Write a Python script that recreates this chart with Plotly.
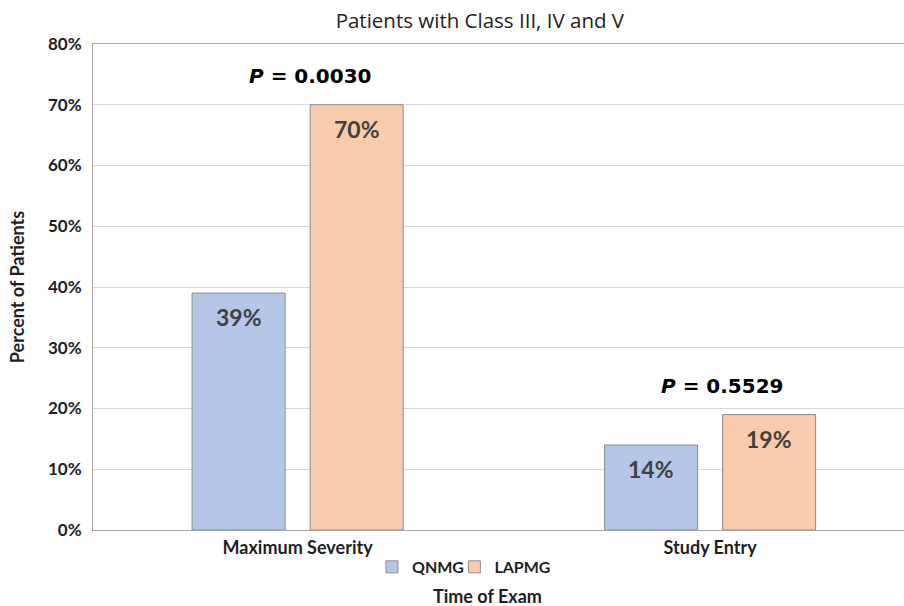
import plotly.graph_objects as go

# Data
categories = ["Maximum Severity", "Study Entry"]
qnmg = [39, 14]
lapmg = [70, 19]
p_values = ["0.0030", "0.5529"]
y_ticks = [0, 10, 20, 30, 40, 50, 60, 70, 80]

# Styling
BLUE = "#B4C7E7"
ORANGE = "#F8CBAD"
OUTLINE = "#8C8C8C"
LABEL_COLOR = "#404040"
TEXT_COLOR = "#1E1E1E"
BAR_W = 0.2255
OFF_Q = -0.2558
OFF_L = 0.0303

x_idx = list(range(len(categories)))

fig = go.Figure()
fig.add_trace(go.Bar(
    name="QNMG", x=x_idx, y=qnmg, width=BAR_W, offset=OFF_Q,
    marker=dict(color=BLUE, line=dict(color=OUTLINE, width=1)),
    legend="legend", showlegend=True,
))
fig.add_trace(go.Bar(
    name="LAPMG", x=x_idx, y=lapmg, width=BAR_W, offset=OFF_L,
    marker=dict(color=ORANGE, line=dict(color=OUTLINE, width=1)),
    legend="legend2", showlegend=True,
))

annotations = []
# value labels inside the top of each bar
for offs, vals in ((OFF_Q, qnmg), (OFF_L, lapmg)):
    for i, v in zip(x_idx, vals):
        annotations.append(dict(
            x=i + offs + BAR_W / 2, y=v, xref="x", yref="y",
            text=f"{v}%", showarrow=False, yanchor="top", yshift=-8,
            font=dict(family="Lato", size=23, color=LABEL_COLOR, weight="bold"),
        ))
# p-value labels above each group
for i, p in zip(x_idx, p_values):
    top = max(qnmg[i], lapmg[i])
    annotations.append(dict(
        x=i + OFF_L, y=top, xref="x", yref="y",
        text=f"<i>P</i> = {p}", showarrow=False, yanchor="bottom", yshift=15,
        font=dict(family="DejaVu Sans", size=20, color="#000000", weight="bold"),
    ))
# x-axis title
annotations.append(dict(
    x=0.486, y=(530 - 596) / 486, xref="paper", yref="paper", text="Time of Exam",
    showarrow=False, yanchor="middle",
    font=dict(family="Lato", size=18, color=TEXT_COLOR, weight="bold"),
))

legend_font = dict(family="Lato", size=16, color=TEXT_COLOR, weight="bold")

fig.update_layout(
    width=904, height=606,
    margin=dict(l=93, r=0, t=44, b=76, autoexpand=False),
    paper_bgcolor="white", plot_bgcolor="white",
    barmode="overlay",
    showlegend=True,
    title=dict(
        text="Patients with Class III, IV and V",
        x=0.477, xref="paper", xanchor="center",
        y=1 - 21 / 606, yref="container", yanchor="middle",
        font=dict(family="Open Sans", size=20.5, color=TEXT_COLOR),
    ),
    xaxis=dict(
        range=[-0.496, 1.470], tickvals=x_idx, ticktext=categories,
        showgrid=False, zeroline=False, showline=True, mirror=True,
        linecolor="#A6A6A6", linewidth=1, ticks="",
        ticklabelstandoff=1,
        tickfont=dict(family="Lato", size=18, color=TEXT_COLOR, weight="bold"),
    ),
    yaxis=dict(
        range=[0, 80], tickvals=y_ticks, ticktext=[f"{v}%" for v in y_ticks],
        showgrid=True, gridcolor="#D9D9D9", gridwidth=1,
        zeroline=False, showline=True, linecolor="#A6A6A6", linewidth=1,
        ticks="", ticklabelstandoff=7,
        tickfont=dict(family="Lato", size=17, color=TEXT_COLOR, weight="bold"),
        title=dict(text="Percent of Patients", standoff=18,
                   font=dict(family="Lato", size=18, color=TEXT_COLOR, weight="bold")),
    ),
    legend=dict(
        orientation="h", x=0.344, xanchor="left", y=-0.076, yanchor="middle",
        yref="paper", font=legend_font, itemwidth=30, bgcolor="rgba(0,0,0,0)",
    ),
    legend2=dict(
        orientation="h", x=0.4456, xanchor="left", y=-0.076, yanchor="middle",
        yref="paper", font=legend_font, itemwidth=30, bgcolor="rgba(0,0,0,0)",
    ),
    annotations=annotations,
)

fig.write_html("out.html")
